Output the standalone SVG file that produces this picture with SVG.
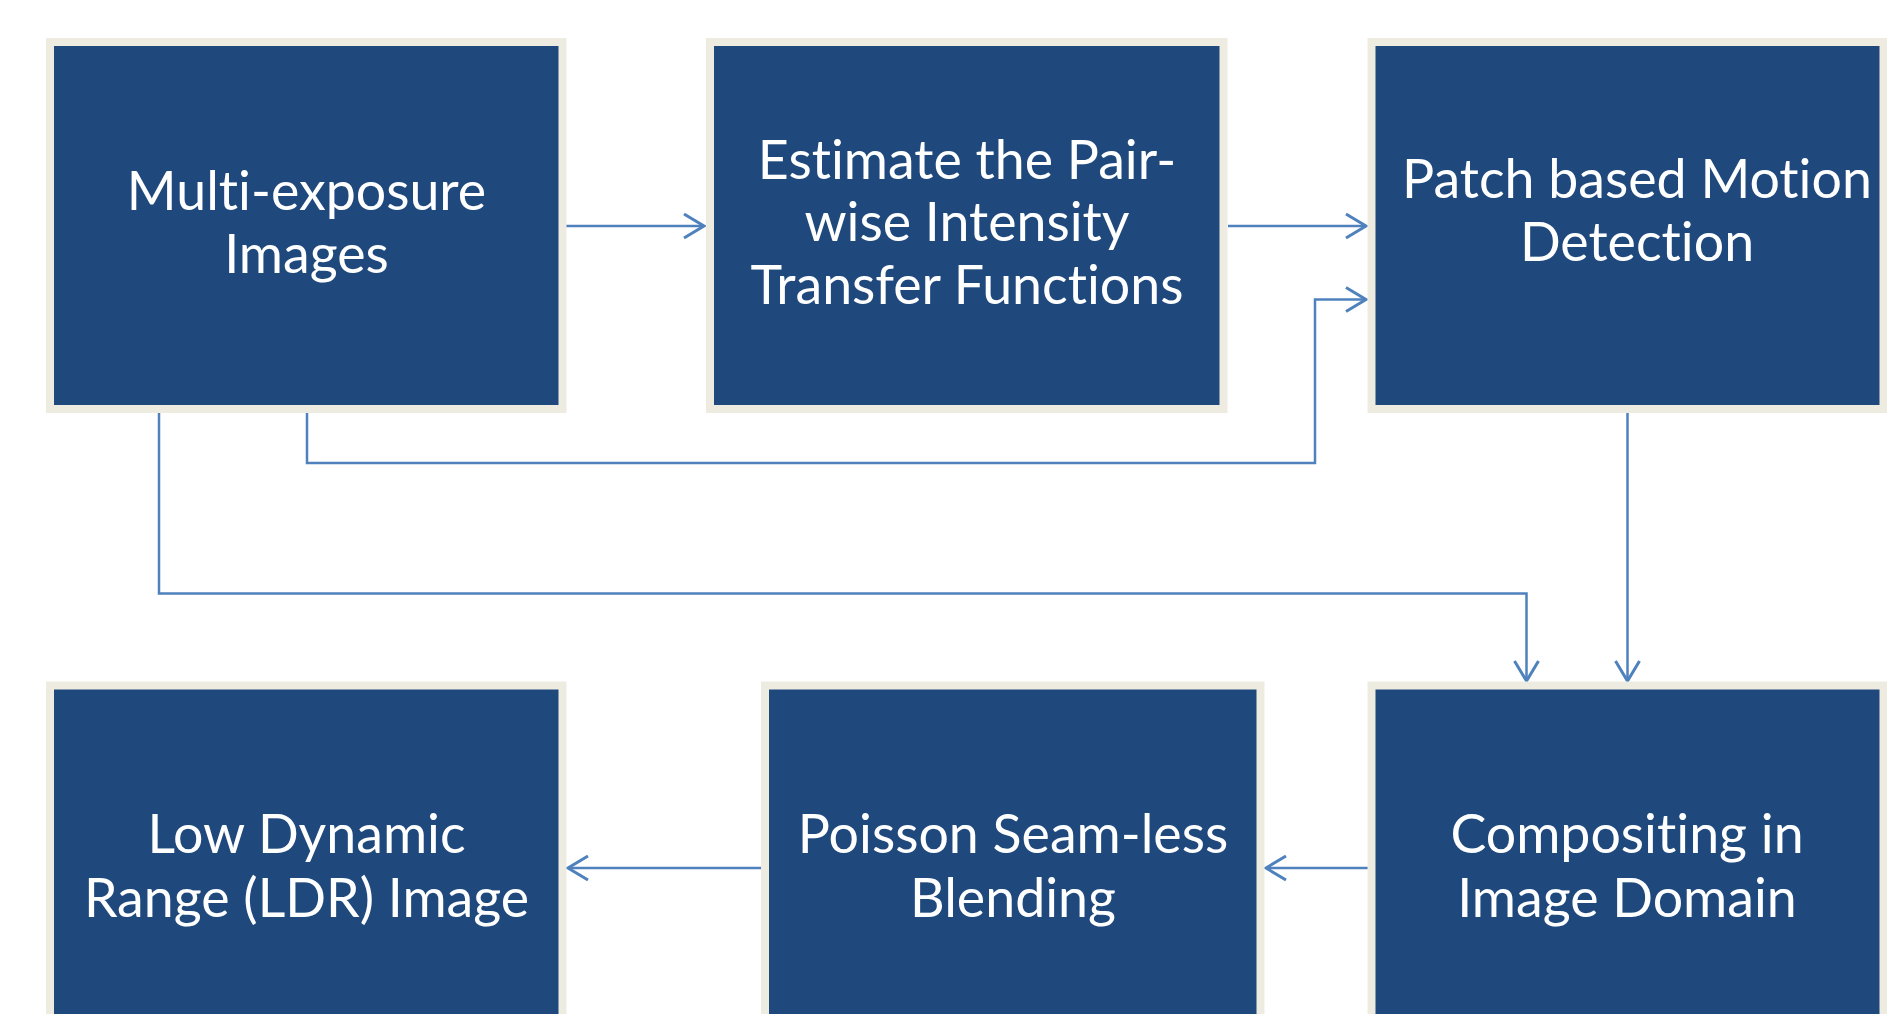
<svg xmlns="http://www.w3.org/2000/svg" width="1887" height="1014" viewBox="0 0 1887 1014">
<defs>
<style>
.box{fill:#1F497D;stroke:#EEECE1;stroke-width:8}
.lbl{fill:#FFFFFF;font-family:Lato,"Open Sans","Liberation Sans",sans-serif;font-size:53.7px;text-anchor:middle;font-variant-ligatures:none;font-feature-settings:"liga" 0}
.con{fill:none;stroke:#4F81BD;stroke-width:2.5}
</style>
<marker id="arr" viewBox="-22 -14 26 28" markerWidth="26" markerHeight="28" refX="0" refY="0" orient="auto" markerUnits="userSpaceOnUse">
<path d="M-20,-12 L0,0 L-20,12" fill="none" stroke="#4F81BD" stroke-width="3"/>
</marker>
</defs>
<rect width="1887" height="1014" fill="#FFFFFF"/>
<g id="connectors">
<path class="con" d="M566,226 L704,226" marker-end="url(#arr)"/>
<path class="con" d="M1228,226 L1366,226" marker-end="url(#arr)"/>
<path class="con" d="M307,413 L307,463 L1315,463 L1315,299.5 L1366,299.5" marker-end="url(#arr)"/>
<path class="con" d="M159,413 L159,593.5 L1526.5,593.5 L1526.5,681" marker-end="url(#arr)"/>
<path class="con" d="M1627.5,413 L1627.5,681" marker-end="url(#arr)"/>
<path class="con" d="M1368,868 L1266,868" marker-end="url(#arr)"/>
<path class="con" d="M762,868 L568,868" marker-end="url(#arr)"/>
</g>
<g id="n1">
<rect class="box" x="50" y="42" width="512.5" height="367"/>
<text class="lbl" x="306.5" y="210">Multi-exposure</text>
<text class="lbl" x="306.5" y="273">Images</text>
</g>
<g id="n2">
<rect class="box" x="710" y="42" width="513.5" height="367"/>
<text class="lbl" x="967" y="179">Estimate the Pair-</text>
<text class="lbl" x="967" y="241">wise Intensity</text>
<text class="lbl" x="967" y="304">Transfer Functions</text>
</g>
<g id="n3">
<rect class="box" x="1371.5" y="42" width="512" height="367"/>
<text class="lbl" x="1637" y="198">Patch based Motion</text>
<text class="lbl" x="1637" y="261">Detection</text>
</g>
<g id="n4">
<rect class="box" x="1371.5" y="685.5" width="512" height="400"/>
<text class="lbl" x="1627" y="853">Compositing in</text>
<text class="lbl" x="1627" y="917">Image Domain</text>
</g>
<g id="n5">
<rect class="box" x="765" y="685.5" width="495.5" height="400"/>
<text class="lbl" x="1013" y="853">Poisson Seam-less</text>
<text class="lbl" x="1013" y="917">Blending</text>
</g>
<g id="n6">
<rect class="box" x="50" y="685.5" width="512.5" height="400"/>
<text class="lbl" x="306.5" y="853">Low Dynamic</text>
<text class="lbl" x="306.5" y="917">Range (LDR) Image</text>
</g>
</svg>
